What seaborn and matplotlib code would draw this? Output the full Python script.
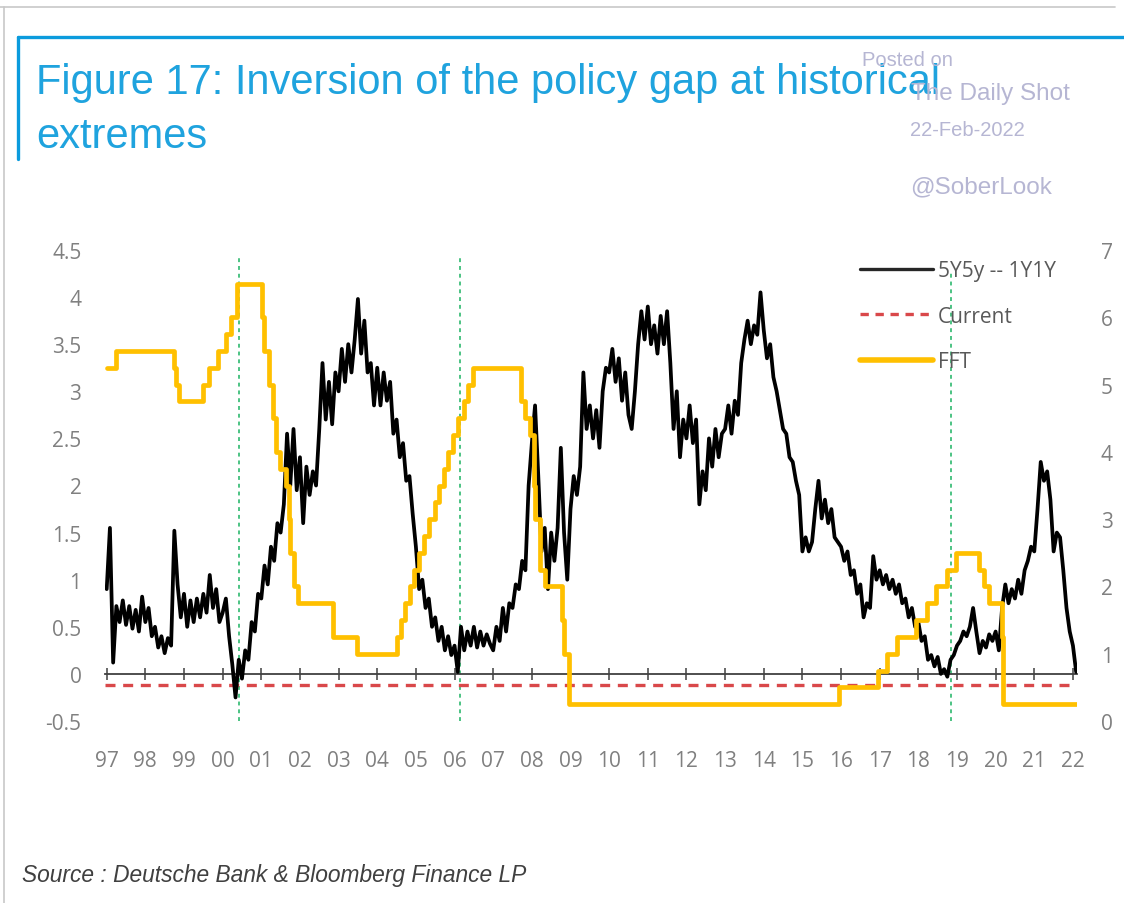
import numpy as np
import matplotlib
matplotlib.use("Agg")
import matplotlib.pyplot as plt
import seaborn as sns
from matplotlib import font_manager as fm
from matplotlib.lines import Line2D

# ---------------- data ----------------
tick_years = list(range(1997, 2023))
tick_labels = ["97", "98", "99", "00", "01", "02", "03", "04", "05", "06", "07", "08", "09",
               "10", "11", "12", "13", "14", "15", "16", "17", "18", "19", "20", "21", "22"]
left_ticks = [-0.5, 0, 0.5, 1, 1.5, 2, 2.5, 3, 3.5, 4, 4.5]
left_labels = ["-0.5", "0", "0.5", "1", "1.5", "2", "2.5", "3", "3.5", "4", "4.5"]
right_ticks = [0, 1, 2, 3, 4, 5, 6, 7]
right_labels = ["0", "1", "2", "3", "4", "5", "6", "7"]

# 5Y5y -- 1Y1Y, monthly readings (left axis)
gap_1997 = [0.9, 1.55, 0.12, 0.72, 0.55, 0.78, 0.52, 0.72, 0.48, 0.68, 0.45, 0.82]
gap_1998 = [0.55, 0.7, 0.4, 0.5, 0.28, 0.4, 0.22, 0.38, 0.3, 1.52, 0.95, 0.6]
gap_1999 = [0.85, 0.5, 0.78, 0.55, 0.8, 0.6, 0.85, 0.65, 1.05, 0.7, 0.9, 0.55]
gap_2000 = [0.65, 0.8, 0.4, 0.1, -0.25, 0.15, -0.05, 0.25, 0.15, 0.55, 0.45, 0.85]
gap_2001 = [0.8, 1.15, 0.95, 1.35, 1.2, 1.6, 1.5, 1.8, 2.55, 2.0, 2.6, 1.95]
gap_2002 = [2.3, 1.6, 2.2, 1.9, 2.15, 2.0, 2.6, 3.3, 2.7, 3.1, 2.65, 3.2]
gap_2003 = [3.0, 3.45, 3.1, 3.5, 3.2, 3.55, 3.98, 3.4, 3.75, 3.2, 3.3, 2.85]
gap_2004 = [3.25, 2.85, 3.2, 2.9, 3.1, 2.55, 2.7, 2.3, 2.45, 2.05, 2.1, 1.7]
gap_2005 = [1.35, 0.9, 1.0, 0.7, 0.8, 0.5, 0.6, 0.35, 0.5, 0.25, 0.4, 0.2]
gap_2006 = [0.3, 0.02, 0.5, 0.25, 0.45, 0.3, 0.5, 0.28, 0.45, 0.3, 0.42, 0.32]
gap_2007 = [0.25, 0.5, 0.35, 0.7, 0.45, 0.75, 0.7, 0.95, 0.9, 1.2, 1.1, 2.0]
gap_2008 = [2.45, 2.85, 2.1, 1.3, 1.55, 0.9, 1.5, 1.2, 1.55, 2.4, 1.5, 1.0]
gap_2009 = [1.75, 2.1, 1.9, 2.2, 3.2, 2.6, 2.85, 2.5, 2.8, 2.4, 3.0, 3.25]
gap_2010 = [3.2, 3.45, 3.1, 3.35, 2.9, 3.2, 2.75, 2.6, 3.0, 3.5, 3.85, 3.55]
gap_2011 = [3.9, 3.5, 3.7, 3.4, 3.8, 3.5, 3.85, 3.3, 2.6, 3.0, 2.3, 2.7]
gap_2012 = [2.5, 2.85, 2.45, 2.7, 1.8, 2.15, 1.95, 2.5, 2.2, 2.6, 2.3, 2.55]
gap_2013 = [2.6, 2.85, 2.55, 2.9, 2.75, 3.3, 3.55, 3.75, 3.5, 3.7, 3.6, 4.05]
gap_2014 = [3.65, 3.35, 3.5, 3.15, 3.0, 2.8, 2.6, 2.55, 2.3, 2.25, 2.05, 1.9]
gap_2015 = [1.3, 1.45, 1.3, 1.4, 1.75, 2.05, 1.65, 1.85, 1.6, 1.75, 1.45, 1.4]
gap_2016 = [1.35, 1.2, 1.3, 1.05, 1.1, 0.85, 0.95, 0.6, 0.75, 0.7, 1.25, 1.0]
gap_2017 = [1.1, 0.95, 1.05, 0.9, 1.0, 0.85, 0.95, 0.75, 0.8, 0.6, 0.7, 0.5]
gap_2018 = [0.55, 0.35, 0.4, 0.15, 0.2, 0.08, 0.18, 0.0, 0.05, -0.03, 0.15, 0.2]
gap_2019 = [0.3, 0.35, 0.45, 0.4, 0.5, 0.7, 0.45, 0.22, 0.35, 0.28, 0.42, 0.35]
gap_2020 = [0.45, 0.25, 0.7, 0.95, 0.75, 0.9, 0.8, 1.0, 0.85, 1.1, 1.2, 1.35]
gap_2021 = [1.3, 1.75, 2.25, 2.05, 2.15, 1.85, 1.3, 1.5, 1.45, 1.1, 0.7, 0.45]
gap_2022 = [0.3, 0.02]

# Fed funds target (right axis), step changes (decimal year, level)
fft_dates = [1997.00, 1997.23, 1998.74, 1998.79, 1998.88, 1999.49, 1999.65, 1999.88, 2000.09,
             2000.22, 2000.37, 2001.01, 2001.08, 2001.21, 2001.30, 2001.37, 2001.49, 2001.64,
             2001.71, 2001.75, 2001.85, 2001.94, 2002.85, 2003.48, 2004.50, 2004.61, 2004.72,
             2004.86, 2004.95, 2005.09, 2005.22, 2005.34, 2005.50, 2005.60, 2005.72, 2005.83,
             2005.95, 2006.08, 2006.24, 2006.36, 2006.49, 2007.71, 2007.83, 2007.94, 2008.06,
             2008.08, 2008.21, 2008.33, 2008.77, 2008.83, 2008.96, 2015.96, 2016.95, 2017.20,
             2017.45, 2017.95, 2018.22, 2018.45, 2018.74, 2018.97, 2019.58, 2019.71, 2019.83,
             2020.17, 2020.20, 2022.10]
fft_levels = [5.25, 5.50, 5.25, 5.00, 4.75, 5.00, 5.25, 5.50, 5.75,
              6.00, 6.50, 6.00, 5.50, 5.00, 4.50, 4.00, 3.75, 3.50,
              3.00, 2.50, 2.00, 1.75, 1.25, 1.00, 1.25, 1.50, 1.75,
              2.00, 2.25, 2.50, 2.75, 3.00, 3.25, 3.50, 3.75, 4.00,
              4.25, 4.50, 4.75, 5.00, 5.25, 4.75, 4.50, 4.25, 3.50,
              3.00, 2.25, 2.00, 1.50, 1.00, 0.25, 0.50, 0.75, 1.00,
              1.25, 1.50, 1.75, 2.00, 2.25, 2.50, 2.25, 2.00, 1.75,
              1.25, 0.25, 0.25]

current_level = -0.12
event_years = [2000.42, 2006.14, 2018.84]
event_tops = [4.45, 4.45, 4.27]

series_labels = ["5Y5y -- 1Y1Y", "Current", "FFT"]

# ---------------- build series ----------------
gap_values = np.array(gap_1997 + gap_1998 + gap_1999 + gap_2000 + gap_2001 + gap_2002 +
                      gap_2003 + gap_2004 + gap_2005 + gap_2006 + gap_2007 + gap_2008 +
                      gap_2009 + gap_2010 + gap_2011 + gap_2012 + gap_2013 + gap_2014 +
                      gap_2015 + gap_2016 + gap_2017 + gap_2018 + gap_2019 + gap_2020 +
                      gap_2021 + gap_2022)
gap_x = 1997 + np.arange(len(gap_values)) / 12.0
current_values = np.full(len(gap_x), current_level)
current_x = np.linspace(1996.96, 2022.10, len(gap_x))

# ---------------- style ----------------
sns.set_theme(style="white")
avail = {f.name for f in fm.fontManager.ttflist}


def pick(*names):
    for n in names:
        if n in avail:
            return n
    return "DejaVu Sans"


tick_font = pick("Open Sans", "Lato", "Liberation Sans")
narrow = "Liberation Sans Narrow" in avail
title_font = pick("Liberation Sans Narrow", "Liberation Sans")
title_size = 33 if narrow else 30
plt.rcParams["font.family"] = [tick_font, "DejaVu Sans"]

W, H = 1124, 904
fig = plt.figure(figsize=(W / 100, H / 100), dpi=100)
fig.patch.set_facecolor("white")

ax_left, ax_right_px, ax_top, ax_bot = 105, 1077, 251, 722
ax = fig.add_axes([ax_left / W, 1 - ax_bot / H, (ax_right_px - ax_left) / W, (ax_bot - ax_top) / H])
ax.set_facecolor("none")
ax2 = ax.twinx()

BLACK = "#000000"
ORANGE = "#FFC000"
RED = "#D9484A"
GREEN = "#4CC383"
GREY = "#808080"

# event lines
ax.vlines(event_years, -0.5, event_tops, colors=GREEN, linestyles=(0, (2.0, 2.0)), lw=1.4, zorder=1)

# current
sns.lineplot(x=current_x, y=current_values, ax=ax, color=RED, lw=2.4, estimator=None,
             sort=False, dashes=False, zorder=2)
ax.lines[-1].set_dashes((3.0, 2.3))

# 5Y5y - 1Y1Y
sns.lineplot(x=gap_x, y=gap_values, ax=ax, color=BLACK, lw=2.7, estimator=None, sort=False,
             zorder=3)

# FFT
sns.lineplot(x=fft_dates, y=fft_levels, ax=ax2, color=ORANGE, lw=3.4, estimator=None,
             sort=False, drawstyle="steps-post", zorder=4)

ax.set_xlim(1996.956, 2022.105)
ax.set_ylim(-0.5, 4.5)
ax2.set_ylim(0, 7)

for s in ax.spines.values():
    s.set_visible(False)
for s in ax2.spines.values():
    s.set_visible(False)
ax.spines["bottom"].set_visible(True)
ax.spines["bottom"].set_position(("data", 0))
ax.spines["bottom"].set_color("#404040")
ax.spines["bottom"].set_linewidth(1.3)

ax.set_xticks(tick_years)
ax.tick_params(axis="x", which="both", direction="inout", length=8, width=1.1, color="#404040",
               labelbottom=False, bottom=True)

sec = ax.secondary_xaxis("bottom")
sec.set_xticks(tick_years, labels=tick_labels)
sec.tick_params(length=0, pad=21, labelcolor=GREY, labelsize=15)
for s in sec.spines.values():
    s.set_visible(False)

ax.set_yticks(left_ticks, labels=left_labels)
ax.tick_params(axis="y", length=0, pad=17, labelcolor=GREY, labelsize=15, left=False)
ax2.set_yticks(right_ticks, labels=right_labels)
ax2.tick_params(axis="y", length=0, pad=17, labelcolor=GREY, labelsize=15, right=False)
ax.set_xlabel("")
ax.set_ylabel("")
ax2.set_ylabel("")
ax.grid(False)
ax2.grid(False)
if ax.get_legend():
    ax.get_legend().remove()
if ax2.get_legend():
    ax2.get_legend().remove()

# legend
handles = [
    Line2D([], [], color="#262626", lw=2.4),
    Line2D([], [], color=RED, lw=2.4, dashes=(2.5, 2.0)),
    Line2D([], [], color=ORANGE, lw=4.0, solid_capstyle="round"),
]
fig.legend(handles, series_labels, loc="upper left", bbox_to_anchor=(860 / W, 1 - 261 / H),
           frameon=False, fontsize=15, handlelength=3.5, handletextpad=0.25, labelspacing=1.18,
           borderpad=0, borderaxespad=0, labelcolor="#595959")

# ---------------- decorations ----------------
BLUE = "#1FA3DE"
fig.add_artist(Line2D([18 / W, 1.0], [1 - 38 / H, 1 - 38 / H], color="#0B9BDD", lw=2.4,
                      transform=fig.transFigure))
fig.add_artist(Line2D([18 / W, 18 / W], [1 - 38 / H, 1 - 160 / H], color="#0B9BDD", lw=2.4,
                      transform=fig.transFigure))
fig.add_artist(Line2D([0, 1115 / W], [1 - 8 / H, 1 - 8 / H], color="#C8C8C8", lw=1.2,
                      transform=fig.transFigure))
fig.add_artist(Line2D([4 / W, 4 / W], [1 - 8 / H, 0], color="#C8C8C8", lw=1.2,
                      transform=fig.transFigure))

fig.text(36 / W, 1 - 83 / H, "Figure 17: Inversion of the policy gap at historical",
         color=BLUE, fontsize=title_size, family=title_font, va="center", ha="left")
fig.text(36 / W, 1 - 137 / H, "extremes",
         color=BLUE, fontsize=title_size, family=title_font, va="center", ha="left")

WM = "#B6B6D3"
fig.text(862 / W, 1 - 61 / H, "Posted on", color=WM, fontsize=14.5, family="Liberation Sans",
         va="center", ha="left")
fig.text(911 / W, 1 - 94 / H, "The Daily Shot", color=WM, fontsize=17.5, family="Liberation Sans",
         va="center", ha="left")
fig.text(910 / W, 1 - 130 / H, "22-Feb-2022", color=WM, fontsize=14.5, family="Liberation Sans",
         va="center", ha="left")
fig.text(910 / W, 1 - 187 / H, "@SoberLook", color=WM, fontsize=17.5, family="Liberation Sans",
         va="center", ha="left")

fig.text(22 / W, 1 - 876 / H, "Source : Deutsche Bank & Bloomberg Finance LP", color="#404040",
         fontsize=16.4, family="Liberation Sans", style="italic", va="center", ha="left")

fig.savefig("out.png", dpi=100, facecolor="white")
